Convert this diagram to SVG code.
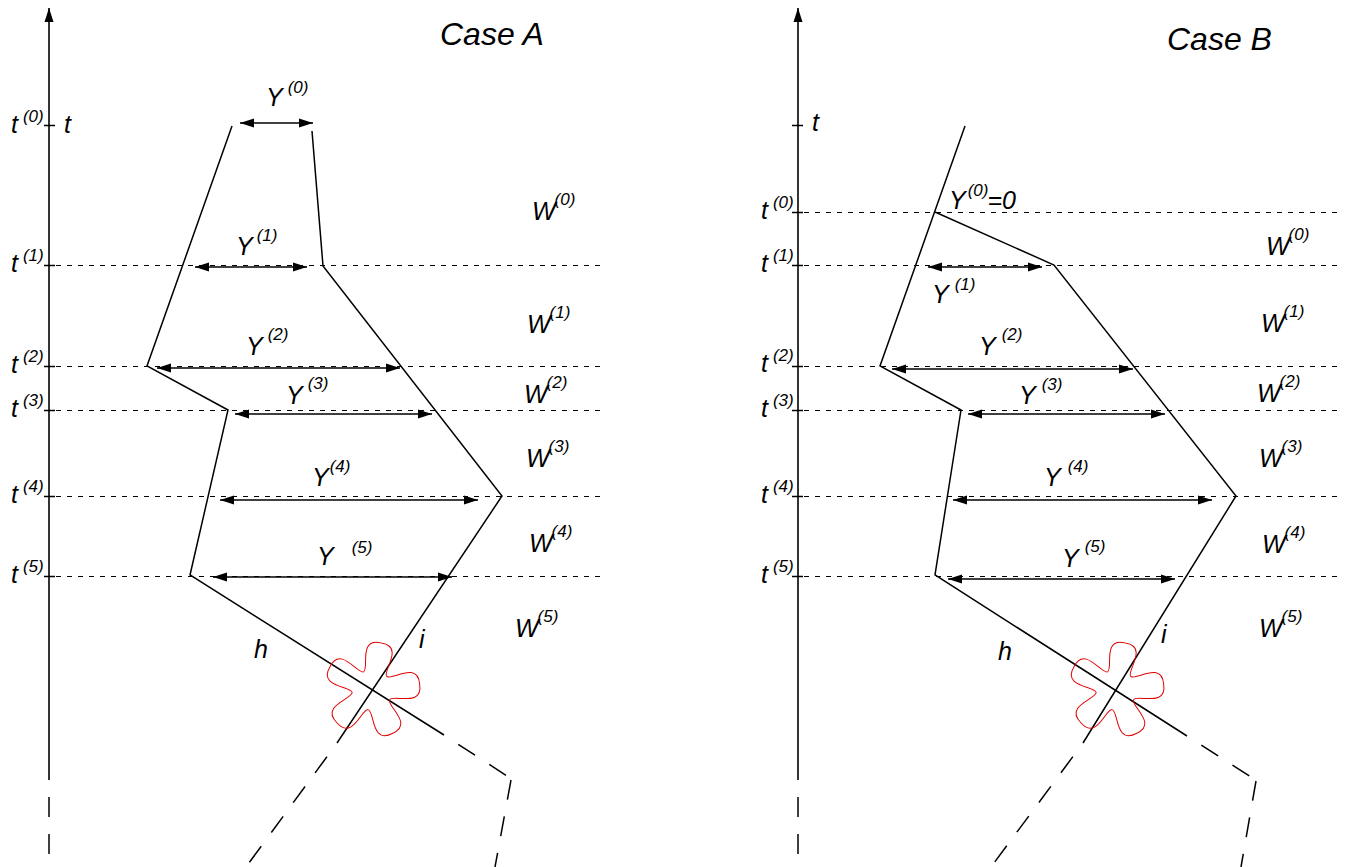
<svg xmlns="http://www.w3.org/2000/svg" xmlns:xlink="http://www.w3.org/1999/xlink" width="1352" height="867" viewBox="0 0 1352 867">
<style>
text{font-family:"Liberation Sans",Arial,sans-serif;font-style:italic;font-size:25px;fill:#000}
.sup{font-size:17px}
.title{font-size:32px}
.ln{fill:none;stroke:#000;stroke-width:1.5;stroke-linejoin:miter}
.guide{fill:none;stroke:#000;stroke-width:1.1;stroke-dasharray:5 6}
.tick{stroke:#000;stroke-width:1.3}
.arr{fill:none;stroke:#000;stroke-width:1.6;marker-start:url(#ah);marker-end:url(#ah)}
.axis{fill:none;stroke:#000;stroke-width:1.6;marker-end:url(#ah)}
.dgap{fill:none;stroke:#000;stroke-width:1.5;stroke-dasharray:20 17;stroke-dashoffset:20}
.dstart{fill:none;stroke:#000;stroke-width:1.5;stroke-dasharray:20 17}
.star{fill:none;stroke:#e00000;stroke-width:1}
</style>
<defs>
<marker id="ah" markerUnits="userSpaceOnUse" markerWidth="14" markerHeight="10" viewBox="0 0 14 10" refX="14" refY="5" orient="auto-start-reverse">
<path d="M0,0.5 L14,5 L0,9.5 z" fill="#000"/>
</marker>
<path id="petal" d="M16.18,-11.76 C20,-6.5 49,-24 48,0 C49,24 20,6.5 16.18,11.76"/>
<g id="starshape">
<use xlink:href="#petal" transform="rotate(-79)"/>
<use xlink:href="#petal" transform="rotate(-7)"/>
<use xlink:href="#petal" transform="rotate(65)"/>
<use xlink:href="#petal" transform="rotate(137)"/>
<use xlink:href="#petal" transform="rotate(209)"/>
</g>
</defs>
<rect width="1352" height="867" fill="#fff"/>

<!-- ================= CASE A ================= -->
<g id="caseA">
<g id="A-axis">
<path class="axis" d="M49,780 L49,8"/>
<path class="dgap" d="M49,780 L49,867"/>
<path class="tick" d="M44,125.5 H55 M44,265.5 H55 M44,366.5 H55 M44,410.5 H55 M44,496.5 H55 M44,576.5 H55"/>
</g>
<g id="A-guides">
<path class="guide" d="M56,265.5 H606 M56,366.5 H606 M56,410.5 H606 M56,496.5 H606 M56,576.5 H606"/>
</g>
<g id="A-connectors">
<path class="ln" d="M232,126 L147,366 L228,410 L190,575 L444,735"/>
<path class="ln" d="M312,131 L323,266 L502,496 L337,743"/>
<path class="dgap" d="M444,735 L510,778"/>
<path class="dstart" d="M511,780 L495,867"/>
<path class="dgap" d="M337,743 L246,867"/>
<path class="arr" d="M240,123 H313"/>
<path class="arr" d="M195,267 H307"/>
<path class="arr" d="M157,368 H400"/>
<path class="arr" d="M235,414 H432"/>
<path class="arr" d="M220,500 H478"/>
<path class="arr" d="M213,577 H452"/>
</g>
<g id="A-star">
<use xlink:href="#starshape" class="star" transform="translate(372,690)"/>
</g>
<g id="A-labels">
<text class="title" x="440" y="45">Case A</text>
<text x="11" y="133">t<tspan class="sup" dx="5" dy="-11">(0)</tspan></text>
<text x="64" y="133">t</text>
<text x="11" y="272">t<tspan class="sup" dx="5" dy="-11">(1)</tspan></text>
<text x="11" y="373">t<tspan class="sup" dx="5" dy="-11">(2)</tspan></text>
<text x="11" y="417">t<tspan class="sup" dx="5" dy="-11">(3)</tspan></text>
<text x="11" y="503">t<tspan class="sup" dx="5" dy="-11">(4)</tspan></text>
<text x="11" y="583">t<tspan class="sup" dx="5" dy="-11">(5)</tspan></text>
<text x="266" y="106">Y<tspan class="sup" dx="5" dy="-13">(0)</tspan></text>
<text x="236" y="255">Y<tspan class="sup" dx="4" dy="-14">(1)</tspan></text>
<text x="246" y="355">Y<tspan class="sup" dx="5" dy="-15">(2)</tspan></text>
<text x="286" y="404">Y<tspan class="sup" dx="5" dy="-15">(3)</tspan></text>
<text x="312" y="486">Y<tspan class="sup" dx="1" dy="-14">(4)</tspan></text>
<text x="317" y="565">Y<tspan class="sup" dx="18" dy="-12">(5)</tspan></text>
<text x="532" y="220">W<tspan class="sup" dx="-1" dy="-15">(0)</tspan></text>
<text x="527" y="333">W<tspan class="sup" dx="-1" dy="-15">(1)</tspan></text>
<text x="524" y="403">W<tspan class="sup" dx="-1" dy="-15">(2)</tspan></text>
<text x="526" y="467">W<tspan class="sup" dx="-1" dy="-15">(3)</tspan></text>
<text x="529" y="552">W<tspan class="sup" dx="-1" dy="-15">(4)</tspan></text>
<text x="515" y="637">W<tspan class="sup" dx="-1" dy="-15">(5)</tspan></text>
<text x="254" y="658">h</text>
<text x="419" y="648">i</text>
</g>
</g>

<!-- ================= CASE B ================= -->
<g id="caseB">
<g id="B-axis">
<path class="axis" d="M798,780 L798,8"/>
<path class="dgap" d="M798,780 L798,867"/>
<path class="tick" d="M792,125.5 H803 M792,212.5 H803 M792,265.5 H803 M792,366.5 H803 M792,410.5 H803 M792,496.5 H803 M792,576.5 H803"/>
</g>
<g id="B-guides">
<path class="guide" d="M804,212.5 H1338 M804,265.5 H1338 M804,366.5 H1338 M804,410.5 H1338 M804,496.5 H1338 M804,576.5 H1338"/>
</g>
<g id="B-connectors">
<path class="ln" d="M965,126 L880,366 L961,410 L935,575 L1187,736"/>
<path class="ln" d="M935,212 L1054,265 L1236,496 L1083,743"/>
<path class="dgap" d="M1187,736 L1254,779"/>
<path class="dstart" d="M1256,781 L1241,867"/>
<path class="dgap" d="M1083,743 L991,867"/>
<path class="arr" d="M928,267 H1042"/>
<path class="arr" d="M892,369 H1133"/>
<path class="arr" d="M968,414 H1165"/>
<path class="arr" d="M953,500 H1212"/>
<path class="arr" d="M948,579 H1175"/>
</g>
<g id="B-star">
<use xlink:href="#starshape" class="star" transform="translate(1116,690)"/>
</g>
<g id="B-labels">
<text class="title" x="1167" y="50">Case B</text>
<text x="812" y="131">t</text>
<text x="761" y="219">t<tspan class="sup" dx="5" dy="-11">(0)</tspan></text>
<text x="761" y="272">t<tspan class="sup" dx="5" dy="-11">(1)</tspan></text>
<text x="761" y="372">t<tspan class="sup" dx="5" dy="-11">(2)</tspan></text>
<text x="761" y="417">t<tspan class="sup" dx="5" dy="-11">(3)</tspan></text>
<text x="761" y="503">t<tspan class="sup" dx="5" dy="-11">(4)</tspan></text>
<text x="761" y="583">t<tspan class="sup" dx="5" dy="-11">(5)</tspan></text>
<text x="949" y="209">Y<tspan class="sup" dx="2" dy="-13">(0)</tspan><tspan dx="-1" dy="13">=0</tspan></text>
<text x="932" y="303">Y<tspan class="sup" dx="6" dy="-13">(1)</tspan></text>
<text x="979" y="355">Y<tspan class="sup" dx="6" dy="-15">(2)</tspan></text>
<text x="1019" y="404">Y<tspan class="sup" dx="6" dy="-14">(3)</tspan></text>
<text x="1044" y="486">Y<tspan class="sup" dx="7" dy="-14">(4)</tspan></text>
<text x="1062" y="567">Y<tspan class="sup" dx="6" dy="-15">(5)</tspan></text>
<text x="1266" y="255">W<tspan class="sup" dx="-1" dy="-15">(0)</tspan></text>
<text x="1261" y="332">W<tspan class="sup" dx="-1" dy="-15">(1)</tspan></text>
<text x="1257" y="402">W<tspan class="sup" dx="-1" dy="-15">(2)</tspan></text>
<text x="1259" y="467">W<tspan class="sup" dx="-1" dy="-15">(3)</tspan></text>
<text x="1262" y="553">W<tspan class="sup" dx="-1" dy="-15">(4)</tspan></text>
<text x="1259" y="637">W<tspan class="sup" dx="-1" dy="-15">(5)</tspan></text>
<text x="998" y="660">h</text>
<text x="1161" y="643">i</text>
</g>
</g>
</svg>
